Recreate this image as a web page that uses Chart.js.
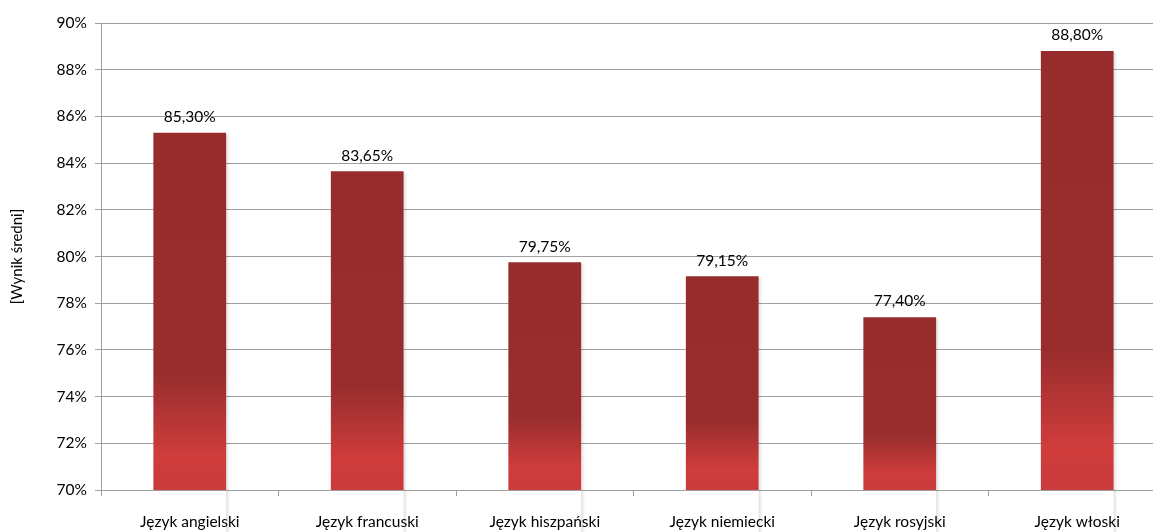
<!DOCTYPE html>
<html>
<head>
<meta charset="utf-8">
<script src="https://cdn.jsdelivr.net/npm/chart.js@4"></script>
<style>
  html, body { margin: 0; padding: 0; background: #fff; overflow: hidden; }
  #wrap { width: 1166px; height: 532px; }
</style>
</head>
<body>
<div id="wrap"><canvas id="wykres"></canvas></div>
<script>
// Kategorie (jezyki)
const kategorie = ['Język angielski', 'Język francuski', 'Język hiszpański', 'Język niemiecki', 'Język rosyjski', 'Język włoski'];
// Wynik sredni w procentach
const wyniki = [85.30, 83.65, 79.75, 79.15, 77.40, 88.80];
// Os Y
const osMin = 70;
const osMax = 90;
const osKrok = 2;

const czcionka = 'Lato, "Open Sans", sans-serif';

// Gradient dla slupka: ciemny u gory, jasniejszy przy dnie
function kolorSlupka(ctx) {
  const chart = ctx.chart;
  const y = chart.scales.y;
  if (!chart.chartArea || !y || ctx.raw === undefined) return '#982D2D';
  const gora = y.getPixelForValue(ctx.raw), dol = chart.chartArea.bottom;
  if (!isFinite(gora) || dol <= gora) return '#982D2D';
  const g = chart.ctx.createLinearGradient(0, gora, 0, dol);
  g.addColorStop(0, '#972C2C');
  g.addColorStop(0.68, '#992D2D');
  g.addColorStop(0.9, '#CF3C3C');
  g.addColorStop(1, '#CA3B3B');
  return g;
}

// Etykiety wartosci nad slupkami
const etykiety = {
  id: 'etykiety',
  afterDatasetsDraw(chart) {
    const c = chart.ctx;
    c.save();
    c.font = '15.5px ' + czcionka;
    c.fillStyle = '#000';
    c.textAlign = 'center';
    c.textBaseline = 'bottom';
    chart.getDatasetMeta(0).data.forEach((el, i) => {
      c.fillText(wyniki[i].toFixed(2).replace('.', ',') + '%', el.x, el.y - 8);
    });
    c.restore();
  }
};

// Cien po prawej stronie slupka
const cien = {
  id: 'cien',
  beforeDatasetsDraw(chart) {
    const c = chart.ctx;
    c.save();
    chart.getDatasetMeta(0).data.forEach(el => {
      const p = el.getProps(['x', 'y', 'base', 'width'], true);
      const g = c.createLinearGradient(p.x + p.width / 2, 0, p.x + p.width / 2 + 4, 0);
      g.addColorStop(0, 'rgba(0,0,0,0.12)');
      g.addColorStop(1, 'rgba(0,0,0,0)');
      c.fillStyle = g;
      c.fillRect(p.x + p.width / 2, p.y + 2, 4, p.base - p.y);
    });
    c.restore();
  }
};

new Chart(document.getElementById('wykres'), {
  type: 'bar',
  data: {
    labels: kategorie,
    datasets: [{
      data: wyniki,
      backgroundColor: kolorSlupka,
      borderWidth: 0,
      barPercentage: 0.41,
      categoryPercentage: 1
    }]
  },
  options: {
    responsive: true,
    maintainAspectRatio: false,
    animation: false,
    layout: { padding: { top: 23, left: 0, right: 0, bottom: 0 } },
    plugins: { legend: { display: false }, tooltip: { enabled: false } },
    scales: {
      x: {
        offset: true,
        afterFit: s => { s.height = 42; },
        grid: {
          offset: true,
          drawOnChartArea: false,
          drawTicks: true,
          tickLength: 6,
          color: '#A0A0A0',
          lineWidth: 1
        },
        border: { color: '#A0A0A0', width: 1 },
        ticks: {
          color: '#000',
          font: { family: czcionka, size: 15.5 },
          padding: 17,
          maxRotation: 0
        }
      },
      y: {
        min: osMin,
        max: osMax,
        afterFit: s => { s.width = 101; },
        ticks: {
          stepSize: osKrok,
          color: '#000',
          font: { family: czcionka, size: 15.5 },
          padding: 8,
          callback: v => v + '%'
        },
        grid: { color: '#A0A0A0', lineWidth: 1, tickLength: 6 },
        border: { color: '#A0A0A0', width: 1 },
        title: {
          display: true,
          text: '[Wynik średni]',
          color: '#000',
          font: { family: czcionka, size: 15 },
          padding: { top: 8, bottom: 0 }
        }
      }
    }
  },
  plugins: [cien, etykiety]
});
</script>
</body>
</html>
